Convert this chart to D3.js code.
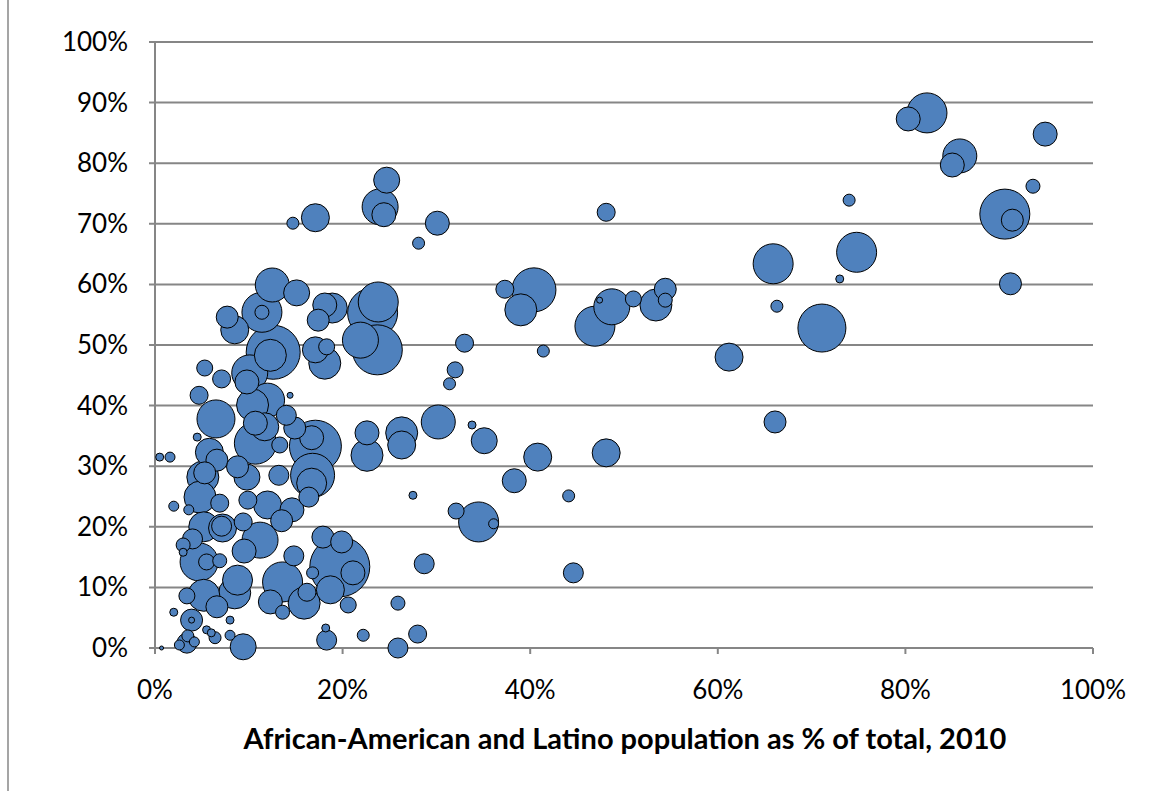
<!DOCTYPE html>
<html><head><meta charset="utf-8">
<script src="https://cdn.jsdelivr.net/npm/d3@7"></script>
<style>body{margin:0;background:#fff}svg{display:block}</style>
</head><body><svg id="c" width="1156" height="791"></svg>
<script>
// x: African-American+Latino %, y: %, s: relative population size
const xVals=[23.2,23.7,21.9,23.8,12.6,12.3,11.4,11.4,7.7,8.5,15.1,12.5,18.1,18.9,17.4,17.1,18.1,18.3,5.3,7.1,4.7,9.8,10.1,14.4,10.4,12.0,6.5,10.7,11.7,14.0,14.9,10.7,13.3,17.1,16.7,22.6,22.6,26.3,26.3,5.8,6.6,4.5,0.5,1.6,16.8,16.7,16.4,13.2,8.8,9.8,5.1,5.3,4.8,6.9,9.9,12.0,14.6,13.5,9.4,3.6,2.0,5.2,7.1,7.2,11.2,9.5,14.8,17.9,19.9,19.7,21.1,18.7,16.2,16.8,13.6,12.3,13.6,15.9,8.8,8.5,4.7,5.5,6.9,3.0,5.2,3.4,6.6,3.9,3.9,2.0,9.4,8.0,6.4,3.4,8.0,0.7,
82.3,80.3,85.8,85.0,94.9,93.6,90.6,91.4,91.2,74.0,74.8,73.0,65.9,66.3,71.1,61.2,66.1,54.4,54.4,53.4,51.0,48.1,47.4,48.7,46.9,40.4,39.0,37.3,41.4,33.0,32.0,31.4,33.8,30.2,35.1,40.8,48.1,38.3,44.1,34.5,36.1,32.1,27.5,28.7,44.6,25.9,28.0,25.9,22.2,18.3,20.6,18.2,28.1,30.1,24.7,24.4,24.0,17.1,14.7,
3.5,4.2,5.5,2.6,6.0,4.0,3.0];
const yVals=[55.3,49.2,50.8,57.1,48.8,48.3,55.4,55.4,54.6,52.5,58.6,59.9,56.6,56.1,54.1,49.2,47.0,49.7,46.2,44.4,41.7,43.9,45.4,41.7,40.1,40.9,37.8,37.1,36.5,38.4,36.3,33.8,33.5,33.3,34.7,35.5,31.8,35.5,33.5,32.3,31.0,34.8,31.5,31.5,28.5,27.2,24.9,28.5,29.9,28.2,28.2,28.9,24.9,23.9,24.4,23.6,22.8,21.0,20.8,22.8,23.4,20.0,20.1,19.8,17.8,16.0,15.2,18.3,17.5,13.4,12.4,9.6,9.2,12.4,10.9,7.6,5.9,7.4,11.2,9.1,14.2,14.2,14.4,15.8,8.7,8.6,6.8,4.6,4.6,5.9,0.2,2.1,1.7,0.8,4.6,0,
88.3,87.3,81.2,79.7,84.8,76.2,71.6,70.6,60.1,73.9,65.3,60.9,63.4,56.4,52.8,48.0,37.3,59.2,57.4,56.6,57.6,71.9,57.4,56.3,53.1,59.1,55.8,59.2,49.0,50.3,45.9,43.6,36.8,37.3,34.2,31.5,32.2,27.6,25.1,20.8,20.5,22.6,25.2,13.9,12.4,7.4,2.3,0,2.1,1.3,7.1,3.3,66.8,70.1,77.2,71.5,72.8,71.0,70.1,
2.0,1.0,3.0,0.5,2.5,18.0,17.0];
const sVals=[625,625,324,400,729,256,400,49,121,196,169,289,144,225,121,169,256,64,64,81,81,144,324,9,256,289,361,144,196,100,121,441,64,676,144,144,256,256,196,196,121,16,16,25,484,225,100,100,121,169,256,121,256,81,81,196,144,121,81,25,25,225,100,196,324,144,100,121,121,900,144,196,81,36,400,144,49,256,225,256,361,64,49,16,256,64,121,121,9,16,169,25,36,100,16,4,
400,144,289,144,144,49,625,121,121,36,400,16,400,36,576,196,121,121,49,256,64,81,9,324,400,484,256,81,36,81,64,36,16,289,169,196,196,144,36,400,25,64,16,100,100,49,81,100,36,100,64,16,36,144,169,144,324,196,36,
36,25,16,25,16,100,49];
const xTicks=[0,20,40,60,80,100];
const yTicks=[0,10,20,30,40,50,60,70,80,90,100];

const svg=d3.select("#c");
const L=155,R=1093,T=42,B=648;
const x=d3.scaleLinear().domain([0,100]).range([L,R]);
const y=d3.scaleLinear().domain([0,100]).range([B,T]);
const r=d3.scaleSqrt().domain([0,900]).range([0,30]);
const font="Lato, 'Open Sans', sans-serif";

svg.append("rect").attr("x",8).attr("y",-2).attr("width",1160).attr("height",800).attr("fill","none").attr("stroke","#888").attr("stroke-width",1.5);

svg.append("g").selectAll("line").data(yTicks).join("line")
  .attr("x1",L-6).attr("x2",R).attr("y1",d=>y(d)).attr("y2",d=>y(d))
  .attr("stroke","#868686").attr("stroke-width",2);
svg.append("line").attr("x1",L).attr("x2",L).attr("y1",T).attr("y2",B+6).attr("stroke","#868686").attr("stroke-width",2);
svg.append("g").selectAll("line").data(xTicks).join("line")
  .attr("x1",d=>x(d)).attr("x2",d=>x(d)).attr("y1",B).attr("y2",B+6).attr("stroke","#868686").attr("stroke-width",2);

svg.append("g").selectAll("text").data(yTicks).join("text")
  .attr("x",L-27).attr("y",d=>y(d)+9).attr("text-anchor","end")
  .attr("font-family",font).attr("font-size",26).text(d=>d+"%");
svg.append("g").selectAll("text").data(xTicks).join("text")
  .attr("x",d=>x(d)).attr("y",B+51).attr("text-anchor","middle")
  .attr("font-family",font).attr("font-size",26).text(d=>d+"%");
svg.append("text").attr("x",625).attr("y",749).attr("text-anchor","middle")
  .attr("font-family",font).attr("font-size",29).attr("font-weight","bold")
  .text("African-American and Latino population as % of total, 2010");

const data=xVals.map((v,i)=>({x:v,y:yVals[i],s:sVals[i]})).sort((a,b)=>b.s-a.s);
svg.append("g").selectAll("circle").data(data).join("circle")
  .attr("cx",d=>x(d.x)).attr("cy",d=>y(d.y)).attr("r",d=>r(d.s))
  .attr("fill","#4f81bd").attr("stroke","#000").attr("stroke-width",1);
</script></body></html>
